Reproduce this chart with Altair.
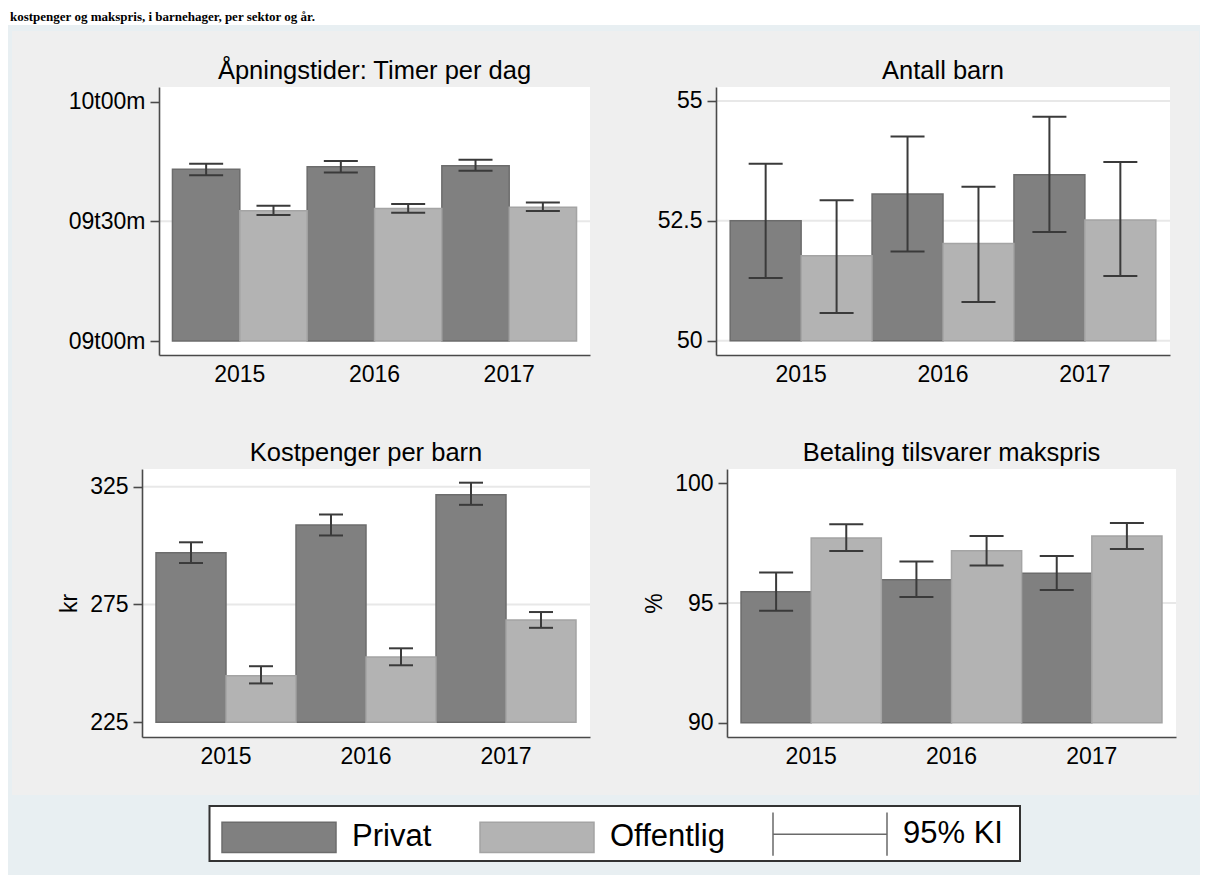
import altair as alt
import pandas as pd

# ---------------- data ----------------
years = ["2015", "2016", "2017"]
sectors = ["Privat", "Offentlig"]
legend_labels = ["Privat", "Offentlig", "95% KI"]
page_title = "kostpenger og makspris, i barnehager, per sektor og år."
panel_titles = ["Åpningstider: Timer per dag", "Antall barn",
                "Kostpenger per barn", "Betaling tilsvarer makspris"]
y_titles = ["", "", "kr", "%"]

# Opening hours (hours per day)
apning_privat = [9.718, 9.728, 9.732]
apning_privat_lo = [9.693, 9.704, 9.711]
apning_privat_hi = [9.741, 9.752, 9.757]
apning_off = [9.544, 9.554, 9.559]
apning_off_lo = [9.527, 9.536, 9.543]
apning_off_hi = [9.565, 9.573, 9.579]
apning_ticks = [9.0, 9.5, 10.0]
apning_grid = [9.5]

# Number of children
barn_privat = [52.50, 53.06, 53.46]
barn_privat_lo = [51.31, 51.86, 52.27]
barn_privat_hi = [53.69, 54.26, 54.67]
barn_off = [51.77, 52.03, 52.52]
barn_off_lo = [50.58, 50.81, 51.35]
barn_off_hi = [52.93, 53.21, 53.73]
barn_ticks = [50, 52.5, 55]
barn_grid = [50, 52.5, 55]

# Food money per child (kr)
kost_privat = [297.0, 308.7, 321.6]
kost_privat_lo = [292.6, 304.3, 317.3]
kost_privat_hi = [301.4, 313.2, 326.7]
kost_off = [244.8, 252.7, 268.4]
kost_off_lo = [241.5, 249.2, 265.1]
kost_off_hi = [248.8, 256.4, 271.8]
kost_ticks = [225, 275, 325]
kost_grid = [275, 325]

# Payment equals max price (%)
maks_privat = [95.47, 95.97, 96.24]
maks_privat_lo = [94.68, 95.25, 95.54]
maks_privat_hi = [96.27, 96.73, 96.96]
maks_off = [97.71, 97.18, 97.80]
maks_off_lo = [97.17, 96.57, 97.26]
maks_off_hi = [98.29, 97.80, 98.34]
maks_ticks = [90, 95, 100]
maks_grid = [95]

# ---------------- styling / layout ----------------
FONT = "Liberation Sans"
PRIV_FILL, OFF_FILL = "#808080", "#b3b3b3"
PRIV_STROKE, OFF_STROKE = "#6c6c6c", "#a4a4a4"
ERR = "#3a3a3a"
GRID = "#e8e8e8"
AXIS_C = "#4a4a4a"
OUTER_BG = "#e8eff2"
INNER_BG = "#efefef"
KI_C = "#6a6a6a"

OX, OY = 142, 87          # page position of the view origin
W, H = 1034, 650          # view size
GEOM = [(159, 590, 87, 355), (716, 1170, 87, 355),
        (142, 590, 469, 737), (727, 1176, 469, 737)]
TITLE_BASE = [79, 79, 461, 461]
CAP = [34, 34, 24, 34]
DOMAINS = [[8.9415, 10.0614], [49.702, 55.292], [218.76, 332.51], [89.403, 100.597]]

one = pd.DataFrame({"k": [0]})

HOUR_EXPR = ("(floor(datum.value) < 10 ? '0' : '') + floor(datum.value) + 't' + "
             "(round((datum.value - floor(datum.value)) * 60) < 10 ? '0' : '') + "
             "round((datum.value - floor(datum.value)) * 60) + 'm'")
NUM_EXPR = "'' + datum.value"


def vx(p):
    return p - OX


def vy(p):
    return p - OY


def panel(k, priv, priv_lo, priv_hi, off, off_lo, off_hi, ticks, grid_vals, label_expr):
    L, R, T, B = GEOM[k]
    ytitle = y_titles[k] if y_titles[k] else None
    df = pd.DataFrame({
        "year": years * 2,
        "sector": [sectors[0]] * 3 + [sectors[1]] * 3,
        "mean": priv + off,
        "lo": priv_lo + off_lo,
        "hi": priv_hi + off_hi,
    })
    xs = alt.Scale(domain=years, range=[vx(L), vx(R)], paddingInner=0, paddingOuter=0.1)
    ys = alt.Scale(domain=DOMAINS[k], range=[vy(B), vy(T)], zero=False, nice=False)
    xo = alt.Scale(domain=sectors, paddingInner=0, paddingOuter=0)

    xaxis = alt.Axis(orient="bottom", offset=vy(B) - H, ticks=False, labelPadding=8,
                     labelAngle=0, labelFontSize=23, labelFont=FONT, labelColor="black",
                     domainColor=AXIS_C, domainWidth=1.6, grid=False, zindex=1)
    yaxis = alt.Axis(orient="left", offset=-vx(L), values=ticks, tickSize=9, tickWidth=1.6,
                     tickColor=AXIS_C, domainColor=AXIS_C, domainWidth=1.6, labelPadding=5,
                     labelFontSize=23, labelFont=FONT, labelColor="black", grid=False, zindex=1,
                     labelExpr=label_expr,
                     titleFontSize=23, titleFont=FONT, titleColor="black",
                     titleFontWeight="normal", titlePadding=8)

    xenc = alt.X("year:N", scale=xs, axis=xaxis, title=None)
    xoff = alt.XOffset("sector:N", scale=xo)

    bg = alt.Chart(one).mark_rect(color="white").encode(
        x=alt.value(vx(L)), x2=alt.value(vx(R)), y=alt.value(vy(T)), y2=alt.value(vy(B)))

    grid = alt.Chart(pd.DataFrame({"v": grid_vals})).mark_rule(color=GRID, strokeWidth=2).encode(
        x=alt.value(vx(L)), x2=alt.value(vx(R)),
        y=alt.Y("v:Q", scale=ys, axis=yaxis, title=ytitle))

    bars = alt.Chart(df).mark_bar(strokeWidth=1.5).encode(
        x=xenc, xOffset=xoff,
        y=alt.Y("mean:Q", scale=ys, axis=yaxis, title=ytitle),
        y2=alt.datum(ticks[0]),
        color=alt.Color("sector:N", scale=alt.Scale(domain=sectors, range=[PRIV_FILL, OFF_FILL]), legend=None),
        stroke=alt.Stroke("sector:N", scale=alt.Scale(domain=sectors, range=[PRIV_STROKE, OFF_STROKE]), legend=None),
    )

    rule = alt.Chart(df).mark_rule(color=ERR, strokeWidth=2).encode(
        x=xenc, xOffset=xoff,
        y=alt.Y("lo:Q", scale=ys, axis=yaxis, title=ytitle), y2="hi:Q")

    cap_lo = alt.Chart(df).mark_tick(color=ERR, size=CAP[k], thickness=2, opacity=1).encode(
        x=xenc, xOffset=xoff, y=alt.Y("lo:Q", scale=ys, axis=yaxis, title=ytitle))
    cap_hi = alt.Chart(df).mark_tick(color=ERR, size=CAP[k], thickness=2, opacity=1).encode(
        x=xenc, xOffset=xoff, y=alt.Y("hi:Q", scale=ys, axis=yaxis, title=ytitle))

    ttl = alt.Chart(one).mark_text(text=panel_titles[k], fontSize=25.5, font=FONT, color="black",
                                   align="center", baseline="alphabetic").encode(
        x=alt.value(vx((L + R) / 2)), y=alt.value(vy(TITLE_BASE[k])))

    return alt.layer(bg, grid, bars, rule, cap_lo, cap_hi, ttl)


p1 = panel(0, apning_privat, apning_privat_lo, apning_privat_hi, apning_off, apning_off_lo,
           apning_off_hi, apning_ticks, apning_grid, HOUR_EXPR)
p2 = panel(1, barn_privat, barn_privat_lo, barn_privat_hi, barn_off, barn_off_lo,
           barn_off_hi, barn_ticks, barn_grid, NUM_EXPR)
p3 = panel(2, kost_privat, kost_privat_lo, kost_privat_hi, kost_off, kost_off_lo,
           kost_off_hi, kost_ticks, kost_grid, NUM_EXPR)
p4 = panel(3, maks_privat, maks_privat_lo, maks_privat_hi, maks_off, maks_off_lo,
           maks_off_hi, maks_ticks, maks_grid, NUM_EXPR)

# ---------------- page decoration ----------------
BOTTOM = 875
page_white = alt.Chart(one).mark_rect(color="white").encode(
    x=alt.value(vx(-20)), x2=alt.value(vx(1200)), y=alt.value(vy(-30)), y2=alt.value(vy(BOTTOM)))
outer = alt.Chart(one).mark_rect(color=OUTER_BG).encode(
    x=alt.value(vx(-20)), x2=alt.value(vx(1200)), y=alt.value(vy(25)), y2=alt.value(vy(BOTTOM)))
inner = alt.Chart(one).mark_rect(color=INNER_BG).encode(
    x=alt.value(vx(12)), x2=alt.value(vx(1199)), y=alt.value(vy(31)), y2=alt.value(vy(795)))
top_title = alt.Chart(one).mark_text(text=page_title, font="Liberation Serif", fontWeight="bold",
                                     fontSize=13, color="black", align="left",
                                     baseline="alphabetic").encode(
    x=alt.value(vx(10)), y=alt.value(vy(21)))

# ---------------- legend ----------------
legend_box = alt.Chart(one).mark_rect(fill="white", stroke="#333333", strokeWidth=2).encode(
    x=alt.value(vx(209.5)), x2=alt.value(vx(1020)), y=alt.value(vy(806)), y2=alt.value(vy(861)))

SWATCH = "M-1,-0.266H1V0.266H-1Z"
KI_PATH = "M-1,-0.38V0.38M-1,0H1M1,-0.38V0.38"
legend_pts = alt.Chart(pd.DataFrame({"entry": legend_labels})).mark_point(
    size=1, filled=True, opacity=1).encode(
    x=alt.value(vx(279)), y=alt.value(vy(834)),
    fill=alt.Fill("entry:N", scale=alt.Scale(domain=legend_labels, range=[PRIV_FILL, OFF_FILL, "transparent"]), title=None),
    stroke=alt.Stroke("entry:N", scale=alt.Scale(domain=legend_labels, range=[PRIV_STROKE, OFF_STROKE, KI_C]), title=None),
    shape=alt.Shape("entry:N", scale=alt.Scale(domain=legend_labels, range=[SWATCH, SWATCH, KI_PATH]), title=None),
)

chart = alt.layer(
    page_white, outer, inner, top_title, p1, p2, p3, p4, legend_box, legend_pts
).resolve_scale(
    x="independent", y="independent", xOffset="independent",
    color="independent", stroke="independent", fill="independent", shape="independent"
).properties(
    width=W, height=H,
    padding={"top": -38, "left": -28, "right": 0, "bottom": 0},
).configure(
    font=FONT
).configure_view(
    strokeWidth=0
).configure_legend(
    orient="none", legendX=79, legendY=689, direction="horizontal",
    symbolSize=12996, symbolStrokeWidth=1.5, symbolOpacity=1, labelFont=FONT, labelFontSize=31,
    labelColor="black", labelOffset=15, columnPadding=45, padding=0,
)

chart.save("out.html", embed_options={"renderer": "svg", "actions": False})
